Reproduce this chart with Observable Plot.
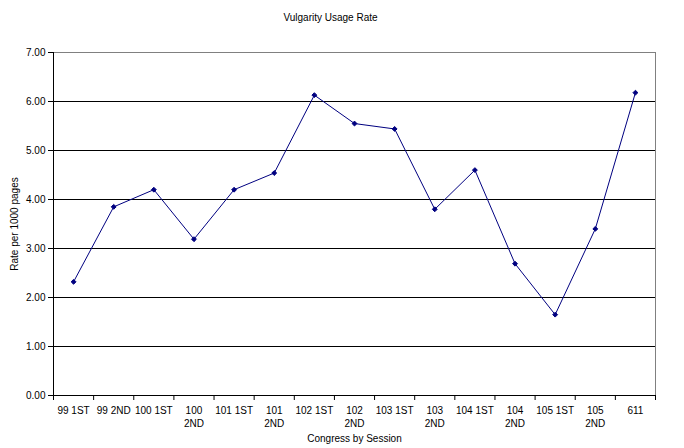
<!DOCTYPE html>
<html>
<head>
<meta charset="utf-8">
<script src="https://cdn.jsdelivr.net/npm/d3@7"></script>
<script src="https://cdn.jsdelivr.net/npm/@observablehq/plot@0.6"></script>
<style>
  html, body { margin: 0; padding: 0; background: #fff; }
</style>
</head>
<body>
<div id="chart"></div>
<script>
const categories = ["99 1ST", "99 2ND", "100 1ST", "100 2ND", "101 1ST", "101 2ND", "102 1ST", "102 2ND",
  "103 1ST", "103 2ND", "104 1ST", "104 2ND", "105 1ST", "105 2ND", "611"];
const rates = [2.32, 3.85, 4.20, 3.19, 4.20, 4.54, 6.13, 5.55, 5.44, 3.80, 4.60, 2.69, 1.65, 3.40, 6.18];
const yTicks = [0, 1, 2, 3, 4, 5, 6, 7];
const gridValues = [1, 2, 3, 4, 5, 6];
const titleText = "Vulgarity Usage Rate";
const xTitle = "Congress by Session";
const yTitle = "Rate per 1000 pages";

const data = categories.map((c, i) => ({cat: c, pos: i + 0.5, rate: rates[i]}));
const boundaries = d3.range(categories.length + 1);
const centers = data.map(d => d.pos);
const wrap = s => (s.length > 6 && s.endsWith("2ND")) ? s.replace(" ", "\n") : s;

const chart = Plot.plot({
  width: 684,
  height: 448,
  marginTop: 52,
  marginBottom: 53,
  marginLeft: 53,
  marginRight: 29,
  style: {fontFamily: "'Liberation Sans', Arial, sans-serif", fontSize: "10px", color: "black", background: "white"},
  x: {type: "linear", domain: [0, categories.length]},
  y: {domain: [0, 7]},
  marks: [
    Plot.ruleY(gridValues, {stroke: "black", strokeWidth: 1}),
    Plot.ruleY([7], {stroke: "#808080", strokeWidth: 1}),
    Plot.ruleX([categories.length], {stroke: "#808080", strokeWidth: 1}),
    Plot.ruleY([0], {stroke: "black", strokeWidth: 1}),
    Plot.ruleX([0], {stroke: "black", strokeWidth: 1}),
    Plot.axisY(yTicks, {tickFormat: d => d.toFixed(2), tickSize: 5, tickPadding: 3, label: null, stroke: "black", fill: "black"}),
    Plot.axisX(boundaries, {tickSize: 5, tickFormat: () => "", label: null, stroke: "black"}),
    Plot.axisX(centers, {tickSize: 0, tickPadding: 9, lineHeight: 1.3, label: null, fill: "black",
      tickFormat: p => wrap(categories[Math.floor(p)])}),
    Plot.line(data, {x: "pos", y: "rate", stroke: "#000080", strokeWidth: 1}),
    Plot.dot(data, {x: "pos", y: "rate", symbol: "diamond2", fill: "#000080", stroke: "#000080", strokeWidth: 1, r: 2.2}),
    Plot.text([titleText], {frameAnchor: "top", dx: -24, dy: -35, lineAnchor: "middle", fill: "black"}),
    Plot.text([xTitle], {frameAnchor: "bottom", dy: 43, lineAnchor: "middle", fill: "black"}),
    Plot.text([yTitle], {frameAnchor: "left", dx: -39, rotate: -90, textAnchor: "middle", lineAnchor: "middle", fill: "black"})
  ]
});
document.getElementById("chart").appendChild(chart);
</script>
</body>
</html>
